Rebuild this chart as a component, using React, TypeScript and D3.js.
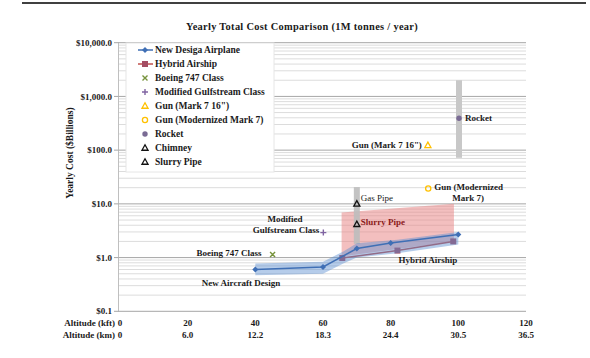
import React from 'react';
import * as d3 from 'd3';

const W = 590, H = 358;

const kftTicks = [0, 20, 40, 60, 80, 100, 120];
const kmTickLabels = ['0', '6.0', '12.2', '18.3', '24.4', '30.5', '36.5'];
const costTicks = [0.1, 1, 10, 100, 1000, 10000];
const costTickLabels = ['$0.1', '$1.0', '$10.0', '$100.0', '$1,000.0', '$10,000.0'];

const newDesignAlt = [40, 60, 70, 80, 100];
const newDesignCost = [0.6, 0.67, 1.47, 1.87, 2.68];
const hybridAlt = [65.7, 82, 98.5];
const hybridCost = [0.98, 1.35, 2.0];
const bandAlt = [40, 60, 66, 70, 82, 100];
const bandHigh = [0.78, 0.84, 1.3, 1.85, 2.15, 3.0];
const bandLow = [0.47, 0.5, 0.78, 1.0, 1.2, 1.75];
const hybridRangeAlt = [65.5, 98.7];
const hybridRangeLow = [1.05, 2.0];
const hybridRangeHigh = [6.9, 10.1];
const boeingPoint = [45.1, 1.14];
const gulfstreamPoint = [60.1, 2.92];
const gunMark7Point = [91, 123];
const gunModernPoint = [91.1, 19.3];
const rocketPoint = [100.2, 392];
const rocketRange = [72, 2000];
const gasPipePoint = [70, 10];
const slurryPipePoint = [70, 4.17];
const pipeRange = [1.8, 20.5];

const legendItems = [
  'New Desiga Airplane', 'Hybrid Airship', 'Boeing 747 Class', 'Modified Gulfstream Class',
  'Gun (Mark 7 16")', 'Gun (Modernized Mark 7)', 'Rocket', 'Chimney', 'Slurry Pipe',
];

const BLUE = '#3f6fb5';
const RED = '#c0504d';
const FONT = '"Liberation Serif", "Times New Roman", serif';

function tri(cx: number, cy: number, s: number) {
  return `M${cx},${cy - s}L${cx + s * 0.95},${cy + s * 0.7}L${cx - s * 0.95},${cy + s * 0.7}Z`;
}

function Marker({ kind, x, y }: { kind: number; x: number; y: number }) {
  switch (kind) {
    case 0:
      return <path d={`M${x},${y - 3}L${x + 3},${y}L${x},${y + 3}L${x - 3},${y}Z`} fill={BLUE} />;
    case 1:
      return <rect x={x - 3} y={y - 3} width={6} height={6} fill="#a44d63" />;
    case 2:
      return <path d={`M${x - 2.5},${y - 2.5}L${x + 2.5},${y + 2.5}M${x + 2.5},${y - 2.5}L${x - 2.5},${y + 2.5}`} stroke="#77933c" strokeWidth={1.4} />;
    case 3:
      return <path d={`M${x - 3},${y}L${x + 3},${y}M${x},${y - 3}L${x},${y + 3}`} stroke="#8064a2" strokeWidth={1.4} />;
    case 4:
      return <path d={tri(x, y, 3.2)} fill="none" stroke="#ffc000" strokeWidth={1.3} />;
    case 5:
      return <circle cx={x} cy={y} r={2.6} fill="none" stroke="#ffc000" strokeWidth={1.3} />;
    case 6:
      return <circle cx={x} cy={y} r={2.7} fill="#7a6b94" />;
    default:
      return <path d={tri(x, y, 3.2)} fill="none" stroke="#111" strokeWidth={1.3} />;
  }
}

export default function App() {
  const x = d3.scaleLinear().domain([0, 120]).range([120, 526]);
  const y = d3.scaleLog().domain([0.1, 10000]).range([311.3, 42.7]);

  const grid: { v: number; major: boolean }[] = [];
  for (let d = 0.1; d < 10000; d *= 10) {
    grid.push({ v: d, major: true });
    for (let k = 2; k <= 9; k++) grid.push({ v: d * k, major: false });
  }
  grid.push({ v: 10000, major: true });

  const line = d3.line<number>().x((_, i) => x(newDesignAlt[i])).y((c) => y(c));
  const blueD = line(newDesignCost) || '';
  const redD = d3.line<number>().x((_, i) => x(hybridAlt[i])).y((c) => y(c))(hybridCost) || '';

  const area = d3.area<number>()
    .x((a) => x(a))
    .y0((_, i) => y(hybridRangeLow[i]))
    .y1((_, i) => y(hybridRangeHigh[i]));
  const pinkD = area(hybridRangeAlt) || '';

  const bandD = d3.area<number>()
    .x((a) => x(a))
    .y0((_, i) => y(bandLow[i]))
    .y1((_, i) => y(bandHigh[i]))(bandAlt) || '';

  const t = { fontFamily: FONT, fontWeight: 700, fill: '#1a1a1a' } as const;

  return (
    <div style={{ position: 'fixed', left: 0, top: 0 }}>
      <svg width={W} height={H} style={{ display: 'block', background: '#fff' }}>
        <line x1={22} x2={586} y1={3} y2={3} stroke="#000" strokeWidth={1.5} />
        <text x={302} y={30} textAnchor="middle" fontSize={10.4} {...t} letterSpacing={0.3}>
          Yearly Total Cost Comparison (1M tonnes / year)
        </text>

        {grid.map((g, i) => (
          <line key={i} x1={118} x2={526} y1={y(g.v)} y2={y(g.v)}
            stroke={g.major ? '#a6a6a6' : '#dcdcdc'} strokeWidth={1} />
        ))}
        <line x1={118.5} x2={118.5} y1={42.7} y2={311.3} stroke="#bfbfbf" />
        {costTicks.map((c, i) => (
          <g key={i}>
            <line x1={114} x2={118.5} y1={y(c)} y2={y(c)} stroke="#a6a6a6" />
            <text x={112} y={y(c)} dy="0.35em" textAnchor="end" fontSize={9} {...t}>{costTickLabels[i]}</text>
          </g>
        ))}

        <text transform={`translate(73,153) rotate(-90)`} textAnchor="middle" fontSize={9.5} {...t}>
          Yearly Cost ($Billions)
        </text>

        <text x={115} y={323} dy="0.35em" textAnchor="end" fontSize={9} {...t}>Altitude (kft)</text>
        <text x={115} y={335} dy="0.35em" textAnchor="end" fontSize={9} {...t}>Altitude (km)</text>
        {kftTicks.map((k, i) => (
          <g key={i}>
            <text x={x(k)} y={323} dy="0.35em" textAnchor="middle" fontSize={9} {...t}>{k}</text>
            <text x={x(k)} y={335} dy="0.35em" textAnchor="middle" fontSize={9} {...t}>{kmTickLabels[i]}</text>
          </g>
        ))}

        {/* legend */}
        <rect x={126} y={43} width={148} height={129} fill="#fff" stroke="#e6e6e6" />
        {legendItems.map((name, i) => {
          const ly = 50 + i * 14;
          return (
            <g key={i}>
              {i < 2 && <line x1={138} x2={153} y1={ly} y2={ly} stroke={i === 0 ? BLUE : RED} strokeWidth={1.5} />}
              <Marker kind={i} x={145} y={ly} />
              <text x={155} y={ly} dy="0.35em" fontSize={9.5} {...t}>{name}</text>
            </g>
          );
        })}

        {/* ranges */}
        <path d={pinkD} fill="#e88080" fillOpacity={0.5} />
        <rect x={x(gasPipePoint[0]) - 3} width={6} y={y(pipeRange[1])} height={y(pipeRange[0]) - y(pipeRange[1])} fill="#bdbdbd" fillOpacity={0.9} />
        <rect x={x(rocketPoint[0]) - 3} width={6} y={y(rocketRange[1])} height={y(rocketRange[0]) - y(rocketRange[1])} fill="#c8c8c8" />

        <path d={redD} fill="none" stroke={RED} strokeWidth={1.5} />
        {hybridAlt.map((a, i) => <Marker key={i} kind={1} x={x(a)} y={y(hybridCost[i])} />)}

        <path d={bandD} fill="#5b8fd0" fillOpacity={0.45} />
        <path d={blueD} fill="none" stroke={BLUE} strokeWidth={1.5} />
        {newDesignAlt.map((a, i) => <Marker key={i} kind={0} x={x(a)} y={y(newDesignCost[i])} />)}

        <Marker kind={2} x={x(boeingPoint[0])} y={y(boeingPoint[1])} />
        <Marker kind={3} x={x(gulfstreamPoint[0])} y={y(gulfstreamPoint[1])} />
        <Marker kind={4} x={x(gunMark7Point[0])} y={y(gunMark7Point[1])} />
        <Marker kind={5} x={x(gunModernPoint[0])} y={y(gunModernPoint[1])} />
        <Marker kind={6} x={x(rocketPoint[0])} y={y(rocketPoint[1])} />
        <Marker kind={7} x={x(gasPipePoint[0])} y={y(gasPipePoint[1])} />
        <Marker kind={8} x={x(slurryPipePoint[0])} y={y(slurryPipePoint[1])} />

        {/* annotations */}
        <text x={x(rocketPoint[0]) + 6} y={y(rocketPoint[1])} dy="0.35em" fontSize={9} {...t}>Rocket</text>
        <text x={x(gunMark7Point[0]) - 6} y={y(gunMark7Point[1])} dy="0.35em" textAnchor="end" fontSize={9} {...t}>Gun (Mark 7 16")</text>
        <text x={x(gunModernPoint[0]) + 6} y={y(gunModernPoint[1]) - 2} dy="0.35em" fontSize={9} {...t}>Gun (Modernized</text>
        <text x={x(gunModernPoint[0]) + 24} y={y(gunModernPoint[1]) + 9} dy="0.35em" fontSize={9} {...t}>Mark 7)</text>
        <text x={x(gasPipePoint[0]) + 4} y={y(gasPipePoint[1]) - 6} dy="0.35em" fontSize={9} {...t} fontWeight={400}>Gas Pipe</text>
        <text x={x(slurryPipePoint[0]) + 4} y={y(slurryPipePoint[1]) - 2} dy="0.35em" fontSize={9} {...t} fill="#8b1a1a">Slurry Pipe</text>
        <text x={285} y={y(gulfstreamPoint[1]) - 14} dy="0.35em" textAnchor="middle" fontSize={9} {...t}>Modified</text>
        <text x={x(gulfstreamPoint[0]) - 4} y={y(gulfstreamPoint[1]) - 3} dy="0.35em" textAnchor="end" fontSize={9} {...t}>Gulfstream Class</text>
        <text x={x(boeingPoint[0]) - 11} y={y(boeingPoint[1]) - 2} dy="0.35em" textAnchor="end" fontSize={9} {...t}>Boeing 747 Class</text>
        <text x={241} y={283} dy="0.35em" textAnchor="middle" fontSize={9} {...t}>New Aircraft Design</text>
        <text x={428} y={260} dy="0.35em" textAnchor="middle" fontSize={9} {...t}>Hybrid Airship</text>
      </svg>
    </div>
  );
}
